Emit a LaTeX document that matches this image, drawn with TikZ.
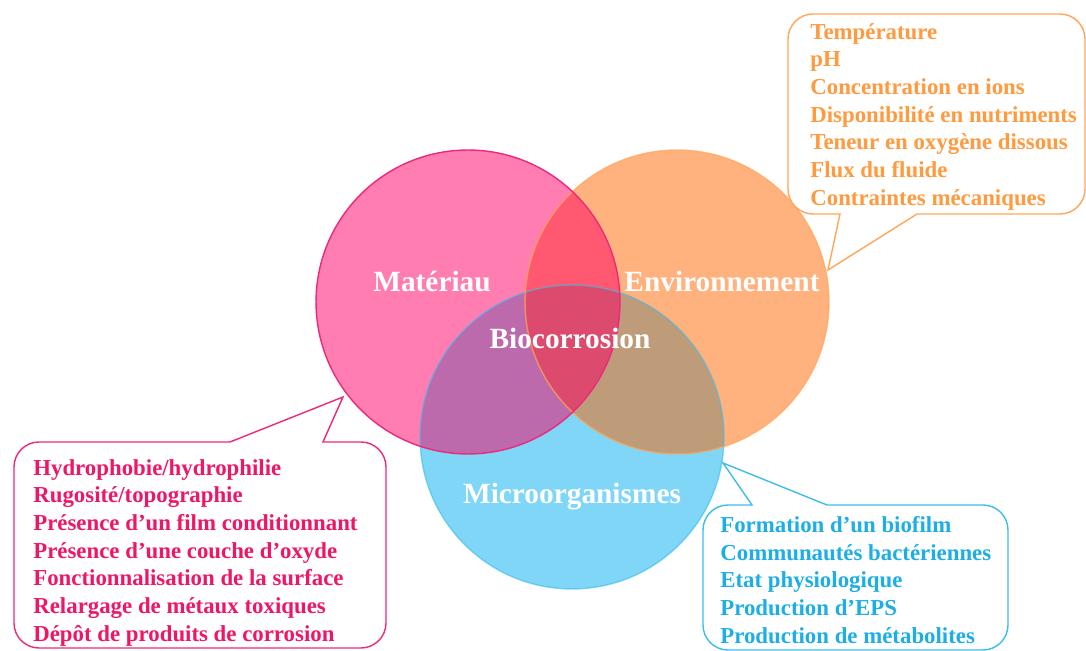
\documentclass[tikz,border=0pt]{standalone}
\usepackage{fontspec}
\setmainfont{Liberation Serif}
\usetikzlibrary{calc}
\definecolor{matfill}{HTML}{FF7DB0}
\definecolor{envfill}{HTML}{FFB17E}
\definecolor{micfill}{HTML}{7FD6F6}
\definecolor{matenv}{HTML}{FF5870}
\definecolor{matmic}{HTML}{BC6AAB}
\definecolor{envmic}{HTML}{BF9C79}
\definecolor{allthree}{HTML}{DC4A6E}
\definecolor{matline}{HTML}{EC2A7B}
\definecolor{envline}{HTML}{FFA65A}
\definecolor{micline}{HTML}{3DBDEC}
\definecolor{mattext}{HTML}{EE1767}
\definecolor{envtext}{HTML}{FF9A3F}
\definecolor{mictext}{HTML}{1EAEE6}
\def\rad{3.04cm}
\tikzset{
	circlabel/.style={text=white, font=\bfseries\fontsize{16.7}{19}\selectfont},
	listtext/.style={anchor=north west, inner sep=0pt, align=left, font=\bfseries\fontsize{13}{15.75}\selectfont},
	bubble/.style={line width=0.8pt, fill=white},
}

\begin{document}
\begin{tikzpicture}[x=0.02cm, y=-0.02cm]
			%%%%% START %%%%%
			\useasboundingbox (0,0) rectangle (1086,651);
			
			\coordinate (mat) at (468,302);
			\coordinate (env) at (677,302);
			\coordinate (mic) at (572,437);
			
			\fill[micfill] (mic) circle (\rad);
			\fill[matfill] (mat) circle (\rad);
			\fill[envfill] (env) circle (\rad);
			
			\begin{scope}
				\clip (mat) circle (\rad);
				\fill[matenv] (env) circle (\rad);
				\fill[matmic] (mic) circle (\rad);
			\end{scope}
			\begin{scope}
				\clip (env) circle (\rad);
				\fill[envmic] (mic) circle (\rad);
			\end{scope}
			\begin{scope}
				\clip (mat) circle (\rad);
				\clip (env) circle (\rad);
				\fill[allthree] (mic) circle (\rad);
			\end{scope}
			
			\draw[line width=0.8pt, color=micline, opacity=0.6] (mic) circle (\rad);
			\draw[line width=0.8pt, color=envline, opacity=0.7] (env) circle (\rad);
			\draw[line width=0.8pt, color=matline] (mat) circle (\rad);
			
			\node[circlabel] (matlabel) at (432,281) {Matériau};
			\node[circlabel] (envlabel) at (722,281) {Environnement};
			\node[circlabel] (biolabel) at (570,338) {Biocorrosion};
			\node[circlabel] (miclabel) at (572,497) {Microorganismes};
			
			% bulles
			\draw[bubble, draw=envline] (828,270) -- (840,214) [rounded corners=0.5cm] -- (788,214) -- (788,14) -- (1085,14) -- (1085,214) [sharp corners] -- (917,214) -- cycle;
			\draw[bubble, draw=matline] (343,397) -- (323,442) [rounded corners=0.5cm] -- (386,442) -- (386,648) -- (14,648) -- (14,442) [sharp corners] -- (230,442) -- cycle;
			\draw[bubble, draw=micline] (723,463) -- (752,505) [rounded corners=0.5cm] -- (703,505) -- (703,650) -- (1008,650) -- (1008,505) [sharp corners] -- (827,505) -- cycle;
			
			\node[listtext, text=envtext] (envlist) at (810,23) {Température\\pH\\Concentration en ions\\Disponibilité en nutriments\\Teneur en oxygène dissous\\Flux du fluide\\Contraintes mécaniques};
			\node[listtext, text=mattext] (matlist) at (33,459) {Hydrophobie/hydrophilie\\Rugosité/topographie\\Présence d’un film conditionnant\\Présence d’une couche d’oxyde\\Fonctionnalisation de la surface\\Relargage de métaux toxiques\\Dépôt de produits de corrosion};
			\node[listtext, text=mictext] (miclist) at (720,516) {Formation d’un biofilm\\Communautés bactériennes\\Etat physiologique\\Production d’EPS\\Production de métabolites};
			
			%%%%% END %%%%%
\end{tikzpicture}
\end{document}
